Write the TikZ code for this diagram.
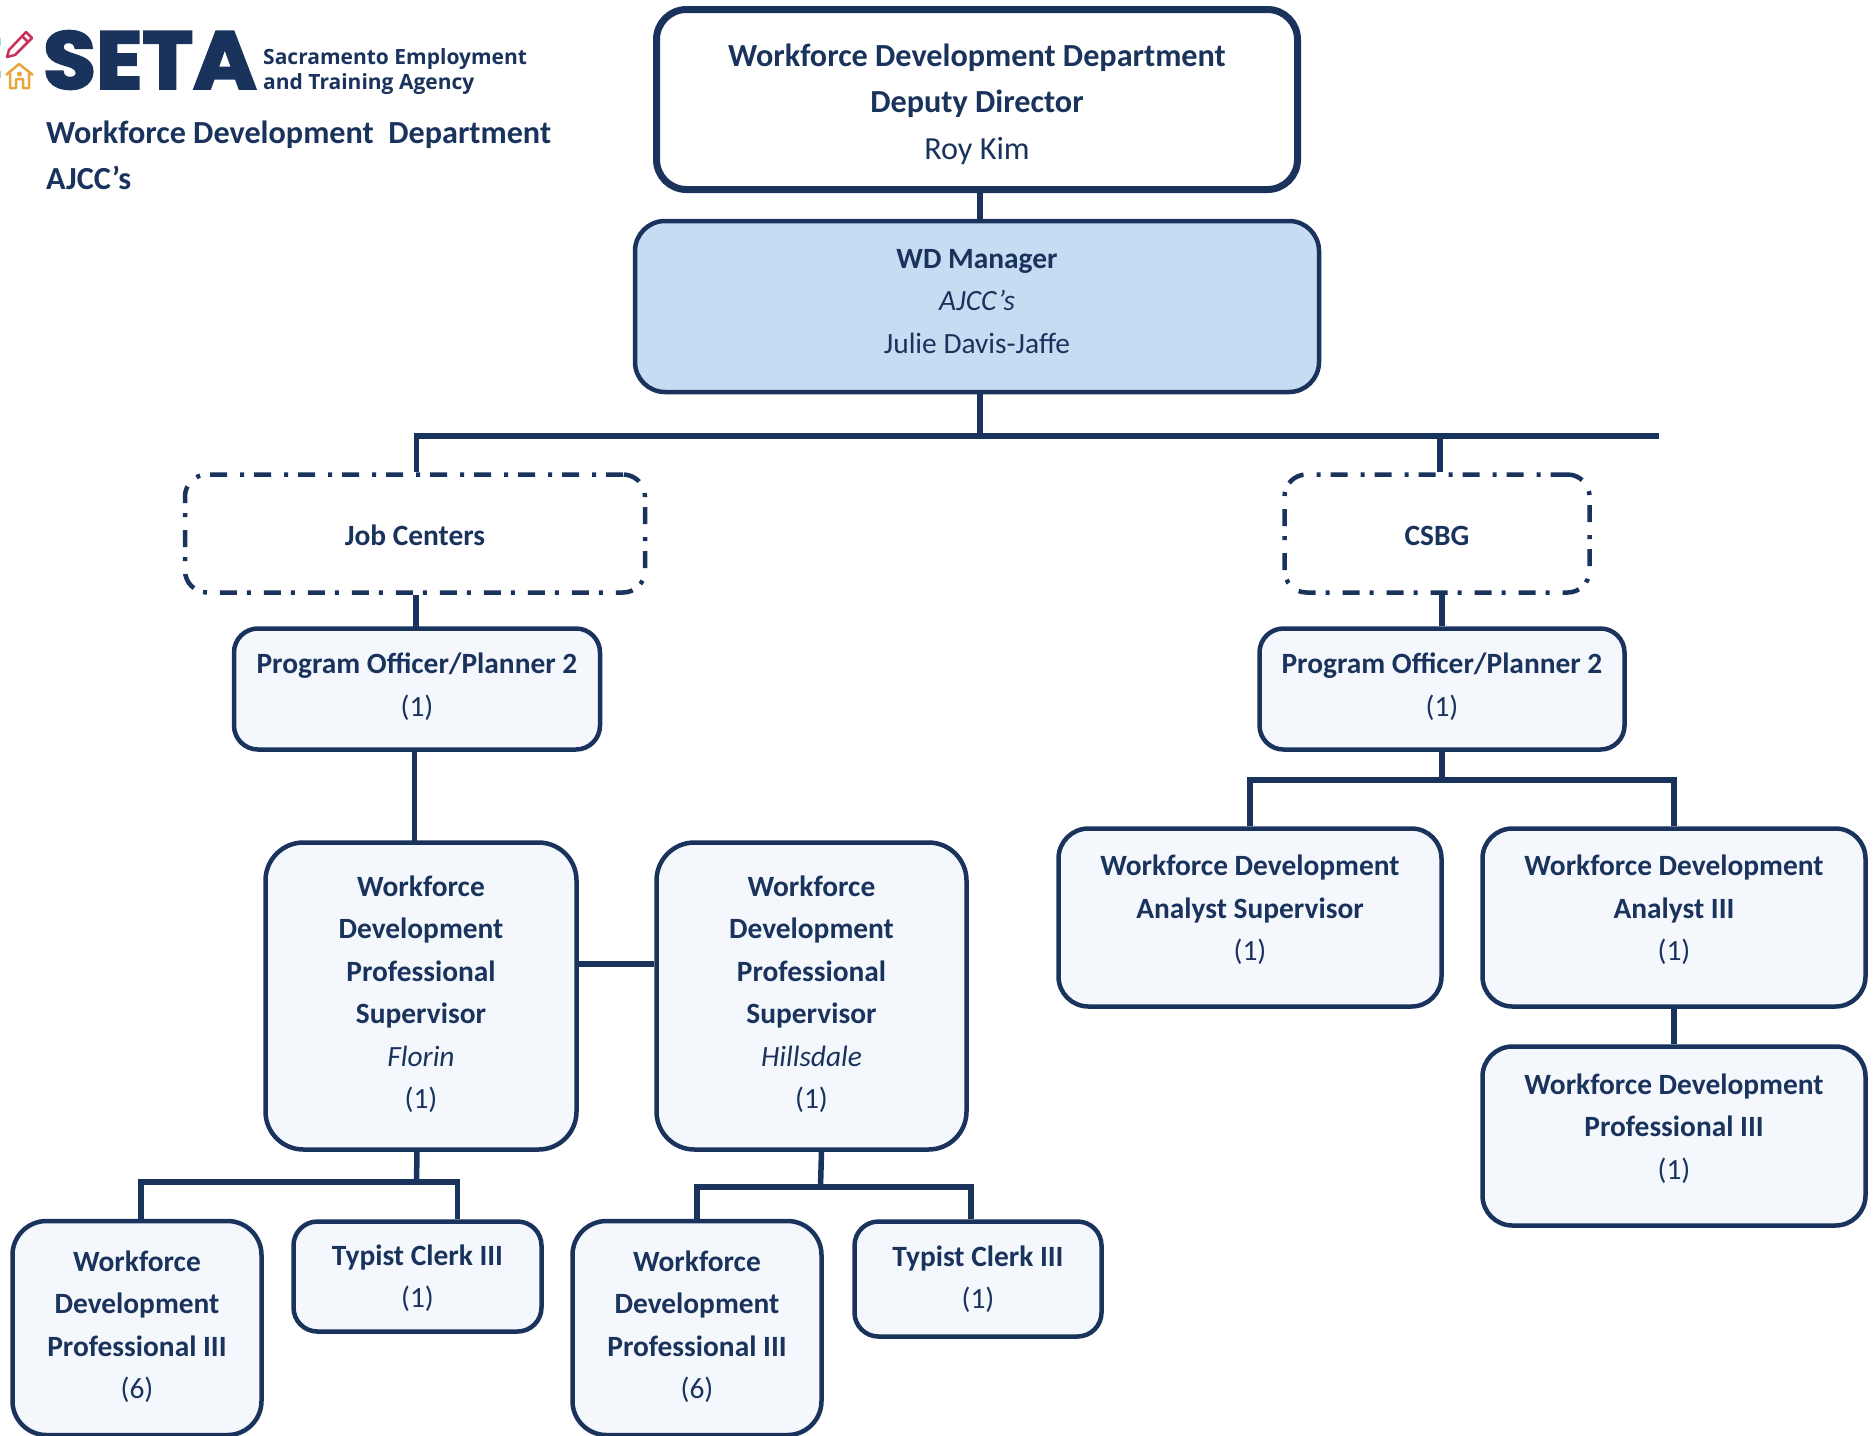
\documentclass[tikz,border=0pt]{standalone}
\usepackage{fontspec}
\setmainfont{Carlito}
\newfontfamily\setafont[FakeBold=3]{Poppins}
\newfontfamily\agencyfont{Open Sans}
\usetikzlibrary{positioning}

\definecolor{navy}{HTML}{1A335D}
\definecolor{palefill}{HTML}{F4F7FC}
\definecolor{managerfill}{HTML}{C6DCF2}
\definecolor{pencilred}{HTML}{C9305C}
\definecolor{houseorange}{HTML}{E8A63C}

% extra depth lifts a block of text, extra height drops it
\newcommand{\lift}[1]{\rule[-#1]{0pt}{#1}}
\newcommand{\drop}[1]{\rule{0pt}{#1}}

\tikzset{
    orgbox/.style={draw=navy, fill=palefill, line width=4.5pt, rounded corners=24pt,
        text=navy, align=center, font=\fontsize{29.4}{42.5}\selectfont, inner sep=0pt},
    bigbox/.style={orgbox, rounded corners=38pt},
    dashbox/.style={orgbox, fill=none, rounded corners=22pt,
        dash pattern=on 17pt off 10pt on 4pt off 13pt},
    link/.style={draw=navy, line width=5.5pt},
    headtext/.style={text=navy, align=left, anchor=west, inner sep=0pt,
        font=\fontsize{32.2}{46}\selectfont\bfseries}
}

\begin{document}
\begin{tikzpicture}[x=1pt, y=-1pt, on grid]
    \useasboundingbox (0,0) rectangle (1873,1435);

    % logo
    \node[text=navy, inner sep=0pt, anchor=west, xscale=1.06, font=\setafont\fontsize{81}{81}\selectfont\bfseries] (seta) at (43,60) {SETA};
    \node[text=navy, inner sep=0pt, anchor=west, align=left, font=\agencyfont\fontsize{21}{25}\selectfont\bfseries] (agency) at (263,72) {Sacramento Employment\\and Training Agency};
    \draw[pencilred, line width=2.5pt, line join=round] (9,50) -- (26,32) -- (32,38) -- (15,55) -- (7,57) -- cycle (22,36) -- (28,42);
    \draw[houseorange, line width=2.5pt, line join=round] (6,75) -- (19,64) -- (33,75) (10,73) -- (10,88) -- (16,88) -- (16,79) -- (23,79) -- (23,88) -- (29,88) -- (29,73);
    \fill[houseorange] (19.5,74) circle (2.5pt);
    \fill[cyan!40] (0,38) rectangle (1,46);
    \fill[green!40!gray!50] (0,71) rectangle (1,78);
    \node[headtext] (heading) at (46,155) {Workforce Development\ \ Department\\AJCC’s};

    % boxes
    \node[orgbox, fill=white, line width=7pt, rounded corners=30pt, minimum width=641pt, minimum height=180pt,
        font=\fontsize{32.2}{46.5}\selectfont] (deputy) at (977,99.5)
        {\drop{31.4pt}\textbf{Workforce Development Department}\\\textbf{Deputy Director}\\Roy Kim};
    \node[orgbox, fill=managerfill, rounded corners=30pt, minimum width=684pt, minimum height=171pt] (manager) [below=207pt of deputy]
        {\textbf{WD Manager}\\\textit{AJCC’s}\\Julie Davis-Jaffe\lift{11pt}};

    \node[dashbox, minimum width=460pt, minimum height=118pt] (jobs) [below left=227pt and 562pt of manager] {\drop{25pt}\textbf{Job Centers}};
    \node[dashbox, minimum width=305pt, minimum height=118pt] (csbg) [below right=227pt and 460pt of manager] {\drop{25pt}\textbf{CSBG}};

    \node[orgbox, minimum width=366pt, minimum height=121pt] (officerA) [below right=155.5pt and 2pt of jobs]
        {\textbf{Program Officer/Planner 2}\\(1)\lift{8.4pt}};
    \node[orgbox, minimum width=365pt, minimum height=121pt] (officerB) [below right=155.5pt and 5pt of csbg]
        {\textbf{Program Officer/Planner 2}\\(1)\lift{8.4pt}};

    \node[bigbox, minimum width=311pt, minimum height=307pt] (florin) [below right=307pt and 4pt of officerA]
        {\textbf{Workforce}\\\textbf{Development}\\\textbf{Professional}\\\textbf{Supervisor}\\\textit{Florin}\\(1)\lift{8pt}};
    \node[bigbox, minimum width=310pt, minimum height=307pt] (hillsdale) [right=390.5pt of florin]
        {\textbf{Workforce}\\\textbf{Development}\\\textbf{Professional}\\\textbf{Supervisor}\\\textit{Hillsdale}\\(1)\lift{8pt}};

    \node[orgbox, rounded corners=30pt, minimum width=383pt, minimum height=178pt] (analystsup) [below left=228.5pt and 192pt of officerB]
        {\textbf{Workforce Development}\\\textbf{Analyst Supervisor}\\(1)\lift{19pt}};
    \node[orgbox, rounded corners=30pt, minimum width=383pt, minimum height=178pt] (analyst) [right=424pt of analystsup]
        {\textbf{Workforce Development}\\\textbf{Analyst III}\\(1)\lift{19pt}};
    \node[orgbox, rounded corners=30pt, minimum width=383pt, minimum height=179pt] (profC) [below=218.5pt of analyst]
        {\textbf{Workforce Development}\\\textbf{Professional III}\\(1)\lift{19pt}};

    \node[bigbox, rounded corners=34pt, minimum width=249pt, minimum height=214pt] (profA) at (137,1328)
        {\textbf{Workforce}\\\textbf{Development}\\\textbf{Professional III}\\(6)\lift{7pt}};
    \node[orgbox, minimum width=248pt, minimum height=110pt] (typistA) at (417.5,1276.5)
        {\drop{23.6pt}\textbf{Typist Clerk III}\\(1)};
    \node[bigbox, rounded corners=34pt, minimum width=249pt, minimum height=214pt] (profB) [right=560pt of profA]
        {\textbf{Workforce}\\\textbf{Development}\\\textbf{Professional III}\\(6)\lift{7pt}};
    \node[orgbox, minimum width=247pt, minimum height=115pt] (typistB) at (978,1279)
        {\textbf{Typist Clerk III}\\(1)};

    % connectors
    \coordinate (busend) at (1659,436);
    \coordinate (busB) at (1442,780);
    \coordinate (busC) at (416.5,1182);
    \coordinate (busD) at (820.5,1187);

    \draw[link] ([xshift=3pt]deputy.south) -- ([xshift=3pt]manager.north);
    \draw[link] ([xshift=3pt]manager.south) -- ([xshift=3pt]manager.south |- busend);
    \draw[link] (jobs.north) ++(1.5pt,0) |- (busend);
    \draw[link] (csbg.north) ++(3pt,0) -- ++(0,38pt);
    \draw[link] (jobs.south) ++(1pt,0) -- ++(0,-33pt);
    \draw[link] (csbg.south) ++(5pt,0) -- (officerB.north);
    \draw[link] (officerA.south) ++(-2.5pt,0) -- ++(0,-92pt);
    \draw[link] (florin.east |- 0,964) -- (hillsdale.west |- 0,964);

    \draw[link] (officerB.south) -- (busB);
    \draw[link] (analystsup.north) |- (busB) -| (analyst.north);
    \draw[link] (analyst.south) -- (profC.north);

    \draw[link] ([xshift=-4pt]florin.south) -- (busC);
    \draw[link] ([xshift=4pt]profA.north) |- (busC) -| ([xshift=40pt]typistA.north);
    \draw[link] ([xshift=10pt]hillsdale.south) -- (busD);
    \draw[link] (profB.north) |- (busD) -| ([xshift=-7pt]typistB.north);
\end{tikzpicture}
\end{document}
